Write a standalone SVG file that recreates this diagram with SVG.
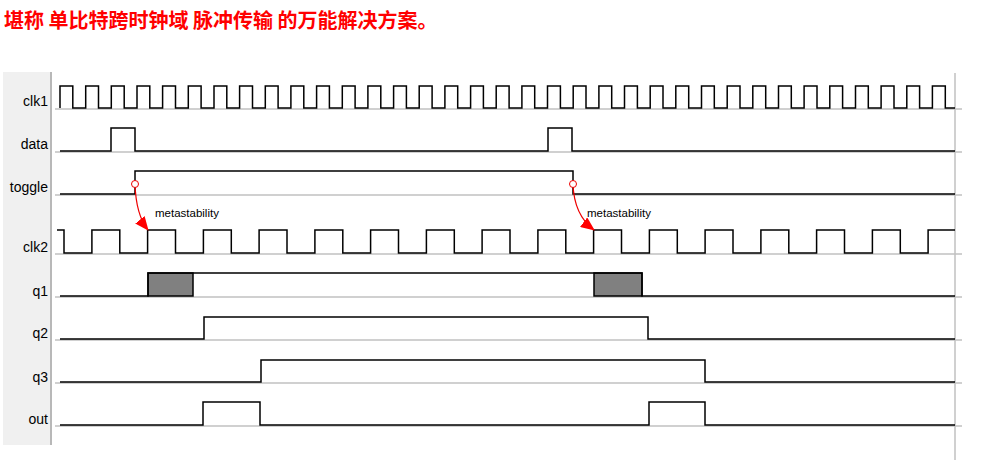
<svg xmlns="http://www.w3.org/2000/svg" width="994" height="465" viewBox="0 0 994 465">
<style>
.lbl{font-family:"Liberation Sans",Arial,sans-serif;font-size:14px;fill:#000;text-anchor:end}
.sig{fill:none;stroke:#000;stroke-width:1.5}
.sep{stroke:#c0c0c0;stroke-width:1.5}
.ann{font-family:"Liberation Sans",Arial,sans-serif;font-size:11.5px;fill:#000}
.arr{fill:none;stroke:#e00;stroke-width:1.2}
</style>
<defs><marker id="ah" markerWidth="14" markerHeight="12" refX="13" refY="6" orient="auto" markerUnits="userSpaceOnUse"><path d="M0,0 L14,6 L0,12z" fill="#f00"/></marker></defs>
<rect width="994" height="465" fill="#fff"/>
<text x="4" y="28" font-family="'Noto Sans CJK SC',sans-serif" font-weight="bold" font-size="20" fill="#f00">堪称 单比特跨时钟域 脉冲传输 的万能解决方案。</text>
<rect x="3" y="72" width="47" height="373" fill="#f0f0f0"/>
<line x1="51" y1="72" x2="51" y2="445" stroke="#a0a0a0" stroke-width="1.5"/>
<line x1="955" y1="73" x2="955" y2="460" stroke="#c0c0c0" stroke-width="1.5"/>
<g id="grid">
<line class="sep" x1="55" y1="109" x2="962" y2="109"/>
<line class="sep" x1="55" y1="152" x2="962" y2="152"/>
<line class="sep" x1="55" y1="195" x2="962" y2="195"/>
<line class="sep" x1="55" y1="254" x2="962" y2="254"/>
<line class="sep" x1="55" y1="297" x2="962" y2="297"/>
<line class="sep" x1="55" y1="340" x2="962" y2="340"/>
<line class="sep" x1="55" y1="383" x2="962" y2="383"/>
<line class="sep" x1="55" y1="426" x2="962" y2="426"/>
</g>
<g id="clk1"><text class="lbl" x="48" y="106">clk1</text>
<path class="sig" d="M60,108 V86 H72.8 V108 H85.7 V86 H98.5 V108 H111.3 V86 H124.2 V108 H137 V86 H149.8 V108 H162.6 V86 H175.5 V108 H188.3 V86 H201.1 V108 H214 V86 H226.8 V108 H239.6 V86 H252.5 V108 H265.3 V86 H278.1 V108 H290.9 V86 H303.8 V108 H316.6 V86 H329.4 V108 H342.3 V86 H355.1 V108 H367.9 V86 H380.8 V108 H393.6 V86 H406.4 V108 H419.2 V86 H432.1 V108 H444.9 V86 H457.7 V108 H470.6 V86 H483.4 V108 H496.2 V86 H509.1 V108 H521.9 V86 H534.7 V108 H547.5 V86 H560.4 V108 H573.2 V86 H586 V108 H598.9 V86 H611.7 V108 H624.5 V86 H637.4 V108 H650.2 V86 H663 V108 H675.8 V86 H688.7 V108 H701.5 V86 H714.3 V108 H727.2 V86 H740 V108 H752.8 V86 H765.7 V108 H778.5 V86 H791.3 V108 H804.1 V86 H817 V108 H829.8 V86 H842.6 V108 H855.5 V86 H868.3 V108 H881.1 V86 H894 V108 H906.8 V86 H919.6 V108 H932.4 V86 H945.3 V108 H955"/></g>
<g id="data"><text class="lbl" x="48" y="149">data</text>
<path class="sig" d="M60,151 H111 V128 H135 V151 H548 V128 H572 V151 H955"/></g>
<g id="toggle"><text class="lbl" x="48" y="192">toggle</text>
<path class="sig" d="M60,194 H135 V171 H573 V194 H955"/></g>
<g id="clk2"><text class="lbl" x="48" y="252">clk2</text>
<path class="sig" d="M57,230 H64 V253 H91.9 V230 H119.8 V253 H147.6 V230 H175.5 V253 H203.4 V230 H231.3 V253 H259.1 V230 H287 V253 H314.9 V230 H342.8 V253 H370.6 V230 H398.5 V253 H426.4 V230 H454.3 V253 H482.1 V230 H510 V253 H537.9 V230 H565.8 V253 H593.6 V230 H621.5 V253 H649.4 V230 H677.3 V253 H705.1 V230 H733 V253 H760.9 V230 H788.8 V253 H816.6 V230 H844.5 V253 H872.4 V230 H900.3 V253 H928.1 V230 H955"/></g>
<g id="q1"><text class="lbl" x="48" y="296">q1</text>
<rect x="148" y="273" width="45" height="23" fill="#808080" stroke="#000" stroke-width="1.5"/>
<rect x="594" y="273" width="48" height="23" fill="#808080" stroke="#000" stroke-width="1.5"/>
<path class="sig" d="M60,296 H148 V273 H642 V296 H955"/></g>
<g id="q2"><text class="lbl" x="48" y="338">q2</text>
<path class="sig" d="M60,339 H204 V317 H648 V339 H955"/></g>
<g id="q3"><text class="lbl" x="48" y="382">q3</text>
<path class="sig" d="M60,382 H261 V360 H705 V382 H955"/></g>
<g id="out"><text class="lbl" x="48" y="424">out</text>
<path class="sig" d="M60,425 H203 V402 H260 V425 H649 V402 H705 V425 H955"/></g>
<g id="connectors">
<path class="arr" d="M135,184 Q136,215 148,230" marker-end="url(#ah)"/>
<circle cx="135" cy="184" r="3.5" fill="#fff" stroke="#e00"/>
<text class="ann" x="155" y="217">metastability</text>
<path class="arr" d="M573,184 Q574,215 594,230" marker-end="url(#ah)"/>
<circle cx="573" cy="184" r="3.5" fill="#fff" stroke="#e00"/>
<text class="ann" x="587" y="217">metastability</text>
</g>
</svg>
